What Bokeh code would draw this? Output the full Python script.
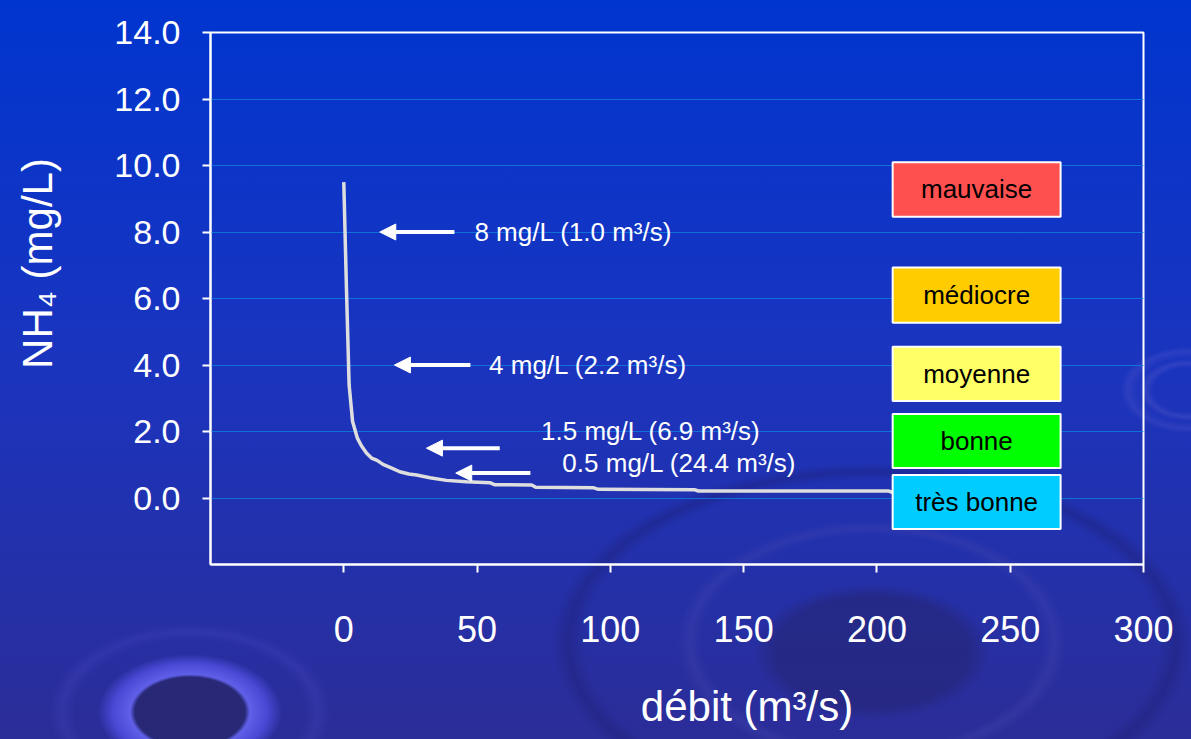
from bokeh.plotting import figure
from bokeh.models import (Range1d, FixedTicker, PrintfTickFormatter, Arrow,
                          NormalHead, ColumnDataSource)
from bokeh.core.properties import value
from bokeh.embed import file_html
from bokeh.resources import INLINE

# NH4 concentration against river flow (dilution curve)
debit = [0, 1.0, 2.0, 3.3, 5.1, 6.6, 8.5, 10.4, 12.5, 14.7, 18.0, 21.0, 24.4,
         27.3, 32.3, 38.5, 46.0, 54.8, 56.5, 70.5, 72.0, 93.5, 95.5, 131.5,
         133.0, 204.5, 207.0, 240.0]
nh4 = [9.5, 6.3, 3.4, 2.3, 1.8, 1.57, 1.35, 1.2, 1.13, 1.01, 0.9, 0.79, 0.72,
       0.69, 0.61, 0.53, 0.49, 0.46, 0.40, 0.39, 0.32, 0.31, 0.26, 0.25,
       0.21, 0.21, 0.13, 0.12]

x_ticks = [0, 50, 100, 150, 200, 250, 300]
y_ticks = [0, 2, 4, 6, 8, 10, 12, 14]

# threshold concentrations and the flows at which they are reached
seuil_nh4 = [8, 4, 1.5, 0.5]
seuil_debit = [1.0, 2.2, 6.9, 24.4]

# water quality classes
classes = ["mauvaise", "médiocre", "moyenne", "bonne", "très bonne"]
class_colors = ["#ff5050", "#ffcc00", "#ffff66", "#00ff00", "#00ccff"]

FONT = "Liberation Sans"
W, H = 1191, 739
NBSP = "\u00a0"

background = ", ".join([
    "radial-gradient(92px 58px at 190px 712px, rgba(40,40,118,1) 0%, rgba(40,40,118,1) 60%,"
    " rgba(95,95,232,1) 65%, rgba(72,72,212,1) 84%, rgba(60,60,190,0) 100%)",
    "radial-gradient(160px 100px at 190px 712px, rgba(0,0,0,0) 72%, rgba(70,70,190,0.30) 80%,"
    " rgba(0,0,0,0) 88%)",
    "radial-gradient(118px 68px at 872px 652px, rgba(36,36,112,0.55) 0%, rgba(36,36,112,0.55) 82%,"
    " rgba(36,36,112,0) 100%)",
    "radial-gradient(205px 128px at 872px 642px, rgba(0,0,0,0) 83%, rgba(72,72,175,0.30) 89%,"
    " rgba(0,0,0,0) 95%)",
    "radial-gradient(330px 185px at 872px 642px, rgba(0,0,0,0) 87%, rgba(28,28,108,0.35) 92%,"
    " rgba(0,0,0,0) 97%)",
    "radial-gradient(72px 46px at 1188px 390px, rgba(0,0,0,0) 48%, rgba(95,95,205,0.30) 58%,"
    " rgba(0,0,0,0) 68%, rgba(95,95,205,0.25) 84%, rgba(0,0,0,0) 94%)",
    "linear-gradient(to bottom, #0035cf 0%, #1b34be 50%, #2b2d98 100%)",
])

p = figure(width=W, height=H, output_backend="svg", toolbar_location=None,
           x_range=Range1d(-50, 300), y_range=Range1d(-2, 14),
           min_border_left=210, min_border_right=48, min_border_top=32,
           min_border_bottom=175,
           background_fill_alpha=0, border_fill_alpha=0,
           styles={"background": background})

p.outline_line_color = "white"
p.outline_line_width = 2
p.xgrid.visible = False
p.ygrid.ticker = FixedTicker(ticks=y_ticks)
p.ygrid.grid_line_color = "#1170d8"
p.ygrid.grid_line_width = 1

for ax in (p.xaxis[0], p.yaxis[0]):
    ax.axis_line_color = "white"
    ax.axis_line_width = 2
    ax.major_tick_line_color = "white"
    ax.major_tick_line_width = 2
    ax.major_tick_out = 8
    ax.major_tick_in = 0
    ax.minor_tick_line_color = None
    ax.major_label_text_color = "white"
    ax.major_label_text_font = FONT
    ax.axis_label_text_color = "white"
    ax.axis_label_text_font = FONT
    ax.axis_label_text_font_size = "42px"
    ax.axis_label_text_font_style = "normal"

p.xaxis.ticker = FixedTicker(ticks=x_ticks)
p.xaxis.major_label_text_font_size = "36px"
p.xaxis.major_label_standoff = 43
# leading non-breaking spaces push the centred title to the right
p.xaxis.axis_label = NBSP * 12 + "débit (m³/s)"
p.xaxis.axis_label_standoff = 38

p.yaxis.ticker = FixedTicker(ticks=y_ticks)
p.yaxis.formatter = PrintfTickFormatter(format="%.1f")
p.yaxis.major_label_text_font_size = "34px"
p.yaxis.major_label_standoff = 22
p.yaxis.axis_label = NBSP * 6 + "NH₄ (mg/L)"
p.yaxis.axis_label_standoff = 50

# curve
src = ColumnDataSource(data=dict(x=debit, y=nh4))
p.line("x", "y", source=src, line_color="#dedede", line_width=3.5)

# threshold arrows and their labels
arrow_y = [8, 4, 1.5, 0.75]
arrow_tip = [13.5, 19.0, 31.0, 42.0]
arrow_tail = [41.5, 47.5, 58.5, 70.0]
for yy, x0, x1 in zip(arrow_y, arrow_tail, arrow_tip):
    p.add_layout(Arrow(end=NormalHead(size=16, fill_color="white", line_color="white",
                                      line_width=1),
                       x_start=x0, y_start=yy, x_end=x1, y_end=yy,
                       line_color="white", line_width=4))

ann_text = [f"{c:g} mg/L ({q:.1f} m³/s)" for c, q in zip(seuil_nh4, seuil_debit)]
ann_x = [49.0, 54.5, 74.0, 82.0]
ann_y = [8.0, 4.0, 2.02, 1.06]
p.text(x=ann_x, y=ann_y, text=ann_text, text_color="white",
       text_font=value(FONT), text_font_size=value("26px"),
       text_align="left", text_baseline="middle")

# quality class boxes
box_top = [10.10, 6.93, 4.55, 2.53, 0.69]
box_bottom = [8.46, 5.27, 2.92, 0.90, -0.93]
box_left, box_right = 205.9, 268.9
p.quad(left=[box_left] * 5, right=[box_right] * 5, top=box_top, bottom=box_bottom,
       fill_color=class_colors, line_color="white", line_width=2)
p.text(x=[(box_left + box_right) / 2] * 5,
       y=[(t + b) / 2 for t, b in zip(box_top, box_bottom)],
       text=classes, text_color="black", text_font=value(FONT),
       text_font_size=value("26px"), text_align="center", text_baseline="middle")

open("out.html", "w").write(file_html(p, INLINE))
